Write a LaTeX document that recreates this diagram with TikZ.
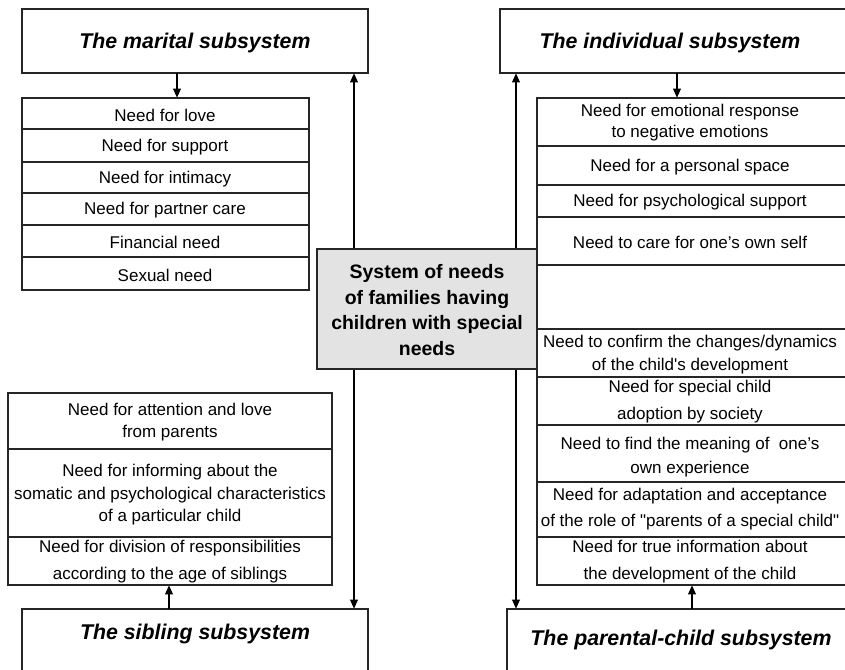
\documentclass[tikz,border=0pt]{standalone}
\usepackage{fontspec}
\setmainfont{Liberation Sans}
\usetikzlibrary{arrows.meta}

\tikzset{every picture/.style={line width=0.75pt}}

\begin{document}
\begin{tikzpicture}[x=0.75pt,y=0.75pt,yscale=-1,xscale=1,
  frame/.style={draw=black!85,line width=0.9pt},
  hdr/.style={font=\fontsize{16}{19}\selectfont\bfseries\itshape,inner sep=0.75pt},
  need/.style={font=\fontsize{12.75}{#1}\selectfont,align=center,inner sep=0.75pt},
  need/.default=16.5,
  arr/.style={line width=1.8pt,-{Triangle[length=7pt,width=5.5pt]}},
  dblarr/.style={line width=1.8pt,{Triangle[length=7pt,width=5.5pt]}-{Triangle[length=7pt,width=5.5pt]}}]
\clip (0,0) rectangle (845,669);
\fill[white] (0,0) rectangle (845,669);

%Shape: Rectangle [subsystems]
\draw[frame] (22,9) rectangle (368,73);
\draw[frame] (500,9) rectangle (850,73);
\draw[frame] (22,609) rectangle (368,690);
\draw[frame] (507,609) rectangle (850,690);

% Text Node
\node[hdr] (marital) at (195,42.5) {The marital subsystem};
\node[hdr] (individual) at (670,42.5) {The individual subsystem};
\node[hdr] (sibling) at (195,634) {The sibling subsystem};
\node[hdr] (parental) at (681,640) {The parental-child subsystem};

%Coordinates for the arrows
\coordinate (mTop) at (177,73);   \coordinate (mList) at (177,98);
\coordinate (iTop) at (677,73);   \coordinate (iList) at (677,98);
\coordinate (sBot) at (169,609);  \coordinate (sList) at (169,585);
\coordinate (pBot) at (692,609);  \coordinate (pList) at (692,585);
\coordinate (leftUp) at (354,73); \coordinate (leftDown) at (354,609);
\coordinate (rightUp) at (516,73); \coordinate (rightDown) at (516,609);

%Straight Lines
\draw[dblarr] (leftDown) -- (leftUp);
\draw[dblarr] (rightDown) -- (rightUp);
\draw[arr] (mTop) -- (mList);
\draw[arr] (iTop) -- (iList);
\draw[arr] (sBot) -- (sList);
\draw[arr] (pBot) -- (pList);

%Shape: Rectangle [marital needs]
\draw[frame] (22,98) rectangle (309,290);
\foreach \y in {129,162,193,225,257} \draw[frame] (22,\y) -- (309,\y);
\node[need] (m1) at (165,115.5) {Need for love};
\node[need] (m2) at (165,147) {Need for support};
\node[need] (m3) at (165,179) {Need for intimacy};
\node[need] (m4) at (165,210.5) {Need for partner care};
\node[need] (m5) at (165,242.5) {Financial need};
\node[need] (m6) at (165,275) {Sexual need};

%Shape: Rectangle [individual and parental-child needs]
\draw[frame] (537,98) rectangle (850,585);
\foreach \y in {146,185,217,265,329,377,425,482,537} \draw[frame] (537,\y) -- (850,\y);
\node[need=15.75] (i1) at (690,123) {Need for emotional response\\to negative emotions};
\node[need] (i2) at (690,167) {Need for a personal space};
\node[need] (i3) at (690,202.5) {Need for psychological support};
\node[need] (i4) at (690,242.5) {Need to care for one’s own self};
\node[need=17.25] (p1) at (690,355) {Need to confirm the changes/dynamics\\of the child\textquotesingle s development};
\node[need=20.25] (p2) at (690,402) {Need for special child\\adoption by society};
\node[need=18] (p3) at (690,457.5) {Need to find the meaning of~~one’s\\own experience};
\node[need=19.5] (p4) at (690,509.5) {Need for adaptation and acceptance\\of the role of \textquotedbl parents of a special child\textquotedbl};
\node[need=20.25] (p5) at (690,562) {Need for true information about\\the development of the child};

%Shape: Rectangle [sibling needs]
\draw[frame] (8,393) rectangle (332,585);
\foreach \y in {449,537} \draw[frame] (8,\y) -- (332,\y);
\node[need] (s1) at (170,422.5) {Need for attention and love\\from parents};
\node[need=16.9] (s2) at (170,495) {Need for informing about the\\somatic and psychological characteristics\\of a particular child};
\node[need=20.25] (s3) at (170,562) {Need for division of responsibilities\\according to the age of siblings};

%Shape: Rectangle [centre]
\draw[frame,fill=gray!22] (317,249) rectangle (537,369);
\node[font=\fontsize{14.6}{19.2}\selectfont\bfseries,align=center,inner sep=0.75pt] (system) at (427,310)
  {System of needs\\of families having\\children with special\\needs};

\end{tikzpicture}
\end{document}
